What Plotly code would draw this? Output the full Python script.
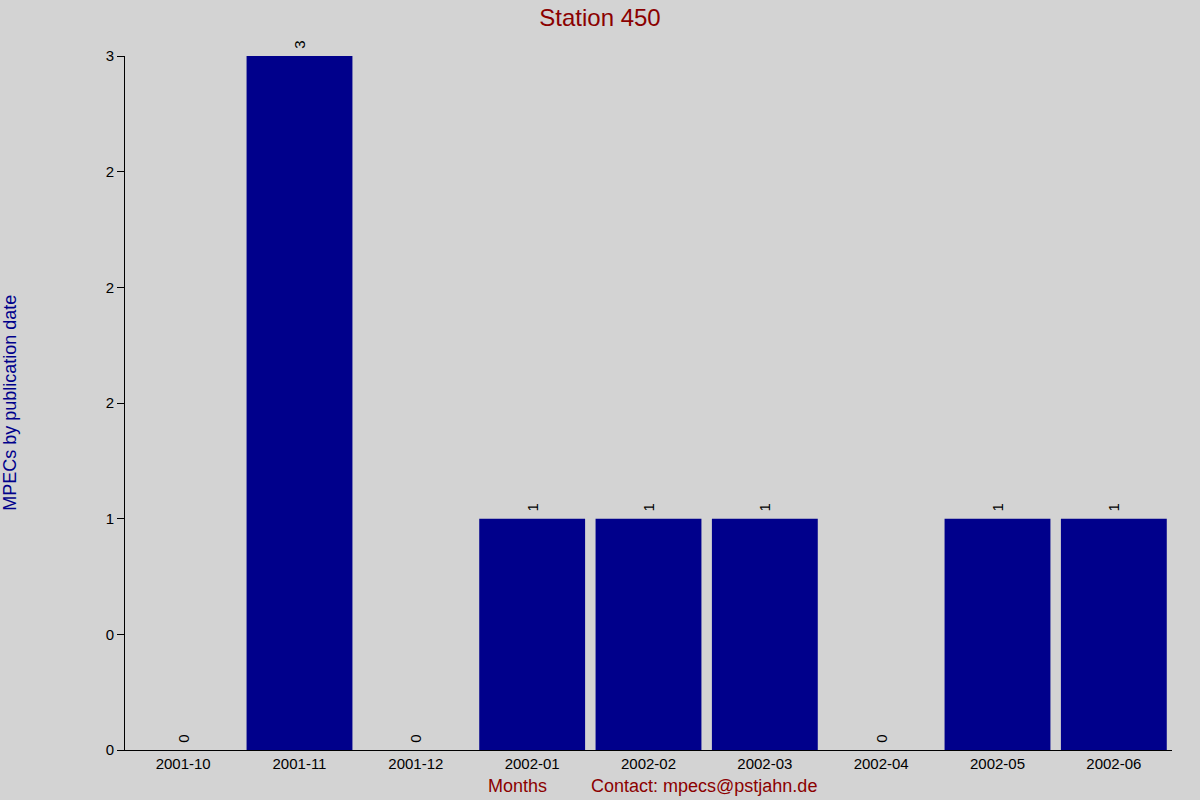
import plotly.graph_objects as go

months = ["2001-10", "2001-11", "2001-12", "2002-01", "2002-02",
          "2002-03", "2002-04", "2002-05", "2002-06"]
counts = [0, 3, 0, 1, 1, 1, 0, 1, 1]
y_tickvals = [0, 0.5, 1, 1.5, 2, 2.5, 3]
y_ticktext = ["0", "0", "1", "2", "2", "2", "3"]

font = "Liberation Sans, Arial, sans-serif"

fig = go.Figure(go.Bar(
    x=months, y=counts,
    marker=dict(color="#00008B", line=dict(width=0)),
    # leading nbsp gives a small gap between bar top and rotated label
    text=["\u00a0" + str(c) for c in counts],
    textposition="outside", textangle=-90,
    textfont=dict(family=font, size=15, color="black"),
    cliponaxis=False,
))

fig.update_layout(
    width=1200, height=800,
    paper_bgcolor="#D3D3D3", plot_bgcolor="#D3D3D3",
    margin=dict(l=125, r=28, t=56, b=50),
    bargap=0.09,
    showlegend=False,
    font=dict(family=font, size=15, color="black"),
    title=dict(text="Station 450", x=0.5, xanchor="center", y=0.978, yanchor="middle",
               font=dict(family=font, size=24, color="#8B0000")),
)
fig.update_xaxes(type="category", showline=True, linecolor="black", linewidth=1,
                 ticks="", showgrid=False, tickfont=dict(size=15))
fig.update_yaxes(range=[0, 3], tickvals=y_tickvals, ticktext=y_ticktext,
                 showline=True, linecolor="black", linewidth=1, ticks="outside",
                 ticklen=7, tickcolor="black", showgrid=False, zeroline=False,
                 tickfont=dict(size=15))

fig.add_annotation(text="MPECs by publication date", xref="paper", yref="paper",
                   x=-0.11, y=0.5, xanchor="center", yanchor="middle", textangle=-90,
                   showarrow=False, font=dict(family=font, size=18, color="#00008B"))
fig.add_annotation(text="Months", xref="paper", yref="paper",
                   x=(517 - 125) / 1047, y=-36 / 694, xanchor="center", yanchor="middle",
                   showarrow=False, font=dict(family=font, size=18, color="#8B0000"))
fig.add_annotation(text="Contact: mpecs@pstjahn.de", xref="paper", yref="paper",
                   x=(704 - 125) / 1047, y=-36 / 694, xanchor="center", yanchor="middle",
                   showarrow=False, font=dict(family=font, size=18, color="#8B0000"))

fig.write_html("out.html", config={"displayModeBar": False},
               post_script="document.body.style.margin='0';")
